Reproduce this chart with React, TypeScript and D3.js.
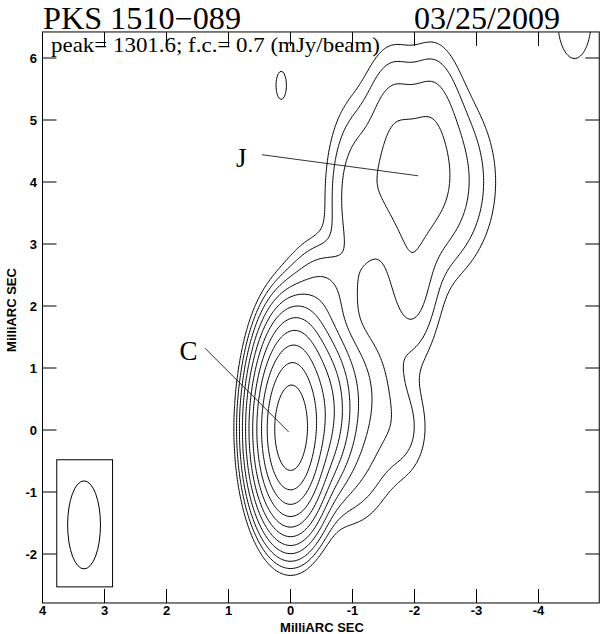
import React, { useEffect, useRef } from 'react';
import * as d3 from 'd3';

const sourceName = 'PKS 1510\u2212089';
const obsDate = '03/25/2009';
const peakText = 'peak= 1301.6; f.c.= 0.7 (mJy/beam)';

// clean components: offset (mas), peak (mJy/beam), gaussian sigma (mas)
const compLabel = ['core', 'k1', 'k1b', 'k2', 'k3', 'plateau', 'bridge', 'J', 'capA', 'capB', 'tongue', 'lobe', 'south', 'fill', 'spotA', 'spotB'];
const compX = [0, -0.5, -0.6, -0.1, -0.5, -1.3, -1.05, -2.05, -1.65, -2.3, -1.97, -1.8, -1.0, -1.35, 0.15, -4.58];
const compY = [0, 0.3, 0.5, 1.0, 2.15, 0.8, 3.7, 4.0, 5.1, 5.15, 2.35, 0.0, -0.5, 2.4, 5.56, 6.62];
const compFlux = [1275, 95, 14, 105, 6, 1.8, 3, 8, 2.3, 2.3, 3.2, 1.5, 1.8, 0.9, 0.75, 1.2];
const compSigX = [0.235, 0.22, 0.42, 0.25, 0.3, 0.35, 0.25, 0.57, 0.26, 0.26, 0.25, 0.28, 0.4, 0.45, 0.225, 0.26];
const compSigY = [0.605, 0.55, 0.7, 0.5, 0.45, 0.6, 0.8, 0.8, 0.65, 0.65, 0.7, 0.5, 0.65, 0.6, 0.605, 0.605];

// f.c. x 2^n
const contourLevels = [0.7, 1.4, 2.8, 5.6, 11.2, 22.4, 44.8, 89.6, 179.2, 358.4, 716.8];

const xTicks = [4, 3, 2, 1, 0, -1, -2, -3, -4];
const yTicks = [-2, -1, 0, 1, 2, 3, 4, 5, 6];

// restoring beam (mas) and its box
const beamMajor = 1.42;
const beamMinor = 0.53;
const beamCenter = [3.33, -1.53];
const beamBox = [3.77, -0.48, 2.87, -2.53];

const markName = ['J', 'C'];
const markTextX = [0.88, 1.79];
const markTextY = [4.25, 1.13];
const markFromX = [0.46, 1.38];
const markFromY = [4.44, 1.32];
const markToX = [-2.06, 0.03];
const markToY = [4.1, -0.03];

const ContourMap = () => {
    const svgRef = useRef(null);

    useEffect(() => {
        const svg = d3.select(svgRef.current);
        svg.selectAll('*').remove();

        const x = d3.scaleLinear().domain([4, -4]).range([42.5, 538.5]);
        const y = d3.scaleLinear().domain([-2, 6]).range([554, 58]);
        const left = x(4), right = x(-4.98), top = y(6.42), bottom = y(-2.79);

        // model image on a grid
        const step = 0.025;
        const gx0 = -5.4, gy0 = -3.2;
        const nx = Math.round((4.4 - gx0) / step) + 1;
        const ny = Math.round((7.0 - gy0) / step) + 1;
        const values = new Float64Array(nx * ny);
        for (let j = 0; j < ny; j++) {
            const py = gy0 + j * step;
            for (let i = 0; i < nx; i++) {
                const px = gx0 + i * step;
                let v = 0;
                for (let k = 0; k < compX.length; k++) {
                    const dx = px - compX[k], dy = py - compY[k];
                    v += compFlux[k] * Math.exp(-(dx * dx) / (2 * compSigX[k] * compSigX[k]) - (dy * dy) / (2 * compSigY[k] * compSigY[k]));
                }
                values[j * nx + i] = v;
            }
        }
        const contours = d3.contours().size([nx, ny]).thresholds(contourLevels)(Array.from(values));
        const proj = d3.geoTransform({
            point: function (px, py) {
                this.stream.point(x(gx0 + (px - 0.5) * step), y(gy0 + (py - 0.5) * step));
            }
        });
        const path = d3.geoPath(proj);

        svg.append('clipPath').attr('id', 'frame-clip')
            .append('rect')
            .attr('x', left).attr('y', top)
            .attr('width', right - left).attr('height', bottom - top);

        svg.append('g')
            .attr('clip-path', 'url(#frame-clip)')
            .selectAll('path')
            .data(contours)
            .enter()
            .append('path')
            .attr('d', path)
            .attr('fill', 'none')
            .attr('stroke', '#000')
            .attr('stroke-width', 1);

        // frame and ticks
        svg.append('rect')
            .attr('x', left).attr('y', top)
            .attr('width', right - left).attr('height', bottom - top)
            .attr('fill', 'none').attr('stroke', '#000').attr('stroke-width', 1);

        const tickLen = 14;
        const tk = svg.append('g').attr('stroke', '#000').attr('stroke-width', 1);
        xTicks.forEach(t => {
            tk.append('line').attr('x1', x(t)).attr('x2', x(t)).attr('y1', top).attr('y2', top + tickLen);
            tk.append('line').attr('x1', x(t)).attr('x2', x(t)).attr('y1', bottom).attr('y2', bottom - tickLen);
        });
        yTicks.forEach(t => {
            tk.append('line').attr('x1', left).attr('x2', left + tickLen).attr('y1', y(t)).attr('y2', y(t));
            tk.append('line').attr('x1', right).attr('x2', right - tickLen).attr('y1', y(t)).attr('y2', y(t));
        });

        const sans = 'Liberation Sans, Arial, sans-serif';
        const serif = 'Liberation Serif, Times New Roman, serif';

        svg.append('g')
            .selectAll('text')
            .data(xTicks)
            .enter()
            .append('text')
            .attr('x', d => x(d))
            .attr('y', 615)
            .attr('text-anchor', 'middle')
            .attr('font-family', sans)
            .attr('font-weight', 'bold')
            .attr('font-size', 13)
            .text(d => d);

        svg.append('g')
            .selectAll('text')
            .data(yTicks)
            .enter()
            .append('text')
            .attr('x', 37)
            .attr('y', d => y(d) + 5)
            .attr('text-anchor', 'end')
            .attr('font-family', sans)
            .attr('font-weight', 'bold')
            .attr('font-size', 13)
            .text(d => d);

        svg.append('text')
            .attr('x', 322).attr('y', 632)
            .attr('text-anchor', 'middle')
            .attr('font-family', sans).attr('font-weight', 'bold').attr('font-size', 13)
            .text('MilliARC SEC');

        svg.append('text')
            .attr('transform', `translate(16, 310) rotate(-90)`)
            .attr('text-anchor', 'middle')
            .attr('font-family', sans).attr('font-weight', 'bold').attr('font-size', 13)
            .text('MilliARC SEC');

        // titles
        svg.append('text')
            .attr('x', 43).attr('y', 29)
            .attr('font-family', serif).attr('font-size', 31)
            .attr('textLength', 198).attr('lengthAdjust', 'spacingAndGlyphs')
            .text(sourceName);
        svg.append('text')
            .attr('x', 414).attr('y', 29)
            .attr('font-family', serif).attr('font-size', 31)
            .attr('textLength', 146).attr('lengthAdjust', 'spacingAndGlyphs')
            .text(obsDate);
        svg.append('text')
            .attr('x', 51).attr('y', 52)
            .attr('font-family', serif).attr('font-size', 21)
            .attr('textLength', 329).attr('lengthAdjust', 'spacingAndGlyphs')
            .text(peakText);

        // component marks
        markName.forEach((m, i) => {
            svg.append('text')
                .attr('x', x(markTextX[i])).attr('y', y(markTextY[i]))
                .attr('font-family', serif).attr('font-size', 27)
                .text(m);
            svg.append('line')
                .attr('x1', x(markFromX[i])).attr('y1', y(markFromY[i]))
                .attr('x2', x(markToX[i])).attr('y2', y(markToY[i]))
                .attr('stroke', '#000').attr('stroke-width', 0.8);
        });

        // beam
        svg.append('rect')
            .attr('x', x(beamBox[0])).attr('y', y(beamBox[1]))
            .attr('width', x(beamBox[2]) - x(beamBox[0]))
            .attr('height', y(beamBox[3]) - y(beamBox[1]))
            .attr('fill', 'none').attr('stroke', '#000').attr('stroke-width', 1);
        svg.append('ellipse')
            .attr('cx', x(beamCenter[0])).attr('cy', y(beamCenter[1]))
            .attr('rx', Math.abs(x(beamMinor / 2) - x(0)))
            .attr('ry', Math.abs(y(beamMajor / 2) - y(0)))
            .attr('fill', 'none').attr('stroke', '#000').attr('stroke-width', 1);
    }, []);

    return (
        <svg ref={svgRef} width={600} height={634}
            style={{ position: 'absolute', left: 0, top: 0, background: '#fff' }}>
        </svg>
    );
};

export default function App() {
    return <ContourMap />;
}
